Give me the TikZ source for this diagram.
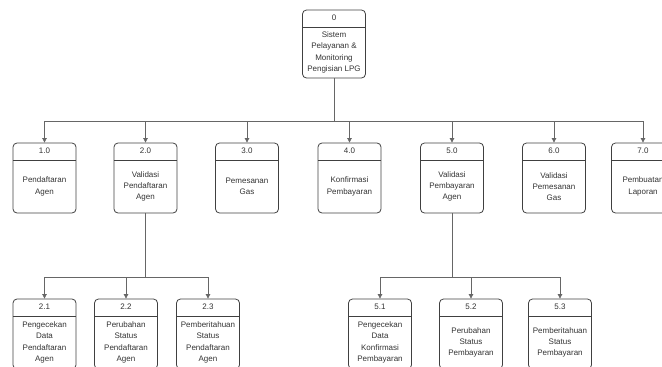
\documentclass[tikz,border=0pt]{standalone}
\usepackage{fontspec}
\setmainfont{Liberation Sans}
\usetikzlibrary{arrows.meta}

\definecolor{boxgray}{HTML}{404040}
\definecolor{linegray}{HTML}{666666}
\definecolor{textgray}{HTML}{333333}

\tikzset{
    proc/.style={draw=boxgray, line width=0.8pt, rounded corners=4pt, minimum width=63pt,
        minimum height=70pt, inner sep=0pt,
        path picture={\draw[boxgray, line width=0.8pt] ([yshift=-17pt]path picture bounding box.north west)
            -- ([yshift=-17pt]path picture bounding box.north east);}},
    num/.style={anchor=center, yshift=-8.5pt, inner sep=0pt, text=textgray},
    desc/.style={anchor=center, yshift=-8.5pt, inner sep=0pt, align=center, text=textgray},
    flow/.style={draw=linegray, line width=0.7pt, -{Triangle[width=4.5pt,length=4.5pt]}},
    wire/.style={draw=linegray, line width=0.7pt}
}

\begin{document}
\begin{tikzpicture}[x=1pt, y=-1pt, font=\fontsize{8}{11.3}\selectfont]
    \useasboundingbox (0,0) rectangle (662,367);

    % level 0
    \node[proc, minimum height=68pt, label={[num]north:0},
        label={[desc]center:Sistem\\Pelayanan \&\\Monitoring\\Pengisian LPG}] (p0) at (334,44) {};

    % level 1
    \foreach \n/\x/\num/\txt in {p1/44.5/1.0/{Pendaftaran\\Agen},
                                 p2/145.5/2.0/{Validasi\\Pendaftaran\\Agen},
                                 p3/247/3.0/{Pemesanan\\Gas},
                                 p4/349.5/4.0/{Konfirmasi\\Pembayaran},
                                 p5/452/5.0/{Validasi\\Pembayaran\\Agen},
                                 p6/554/6.0/{Validasi\\Pemesanan\\Gas},
                                 p7/643/7.0/{Pembuatan\\Laporan}} {
        \node[proc, label={[num]north:\num}, label={[desc]center:\txt}] (\n) at (\x,178) {};
    }

    % level 2
    \foreach \n/\x/\num/\txt in {p21/44.5/2.1/{Pengecekan\\Data\\Pendaftaran\\Agen},
                                 p22/126/2.2/{Perubahan\\Status\\Pendaftaran\\Agen},
                                 p23/208/2.3/{Pemberitahuan\\Status\\Pendaftaran\\Agen},
                                 p51/380/5.1/{Pengecekan\\Data\\Konfirmasi\\Pembayaran},
                                 p52/471/5.2/{Perubahan\\Status\\Pembayaran},
                                 p53/560/5.3/{Pemberitahuan\\Status\\Pembayaran}} {
        \node[proc, label={[num]north:\num}, label={[desc]center:\txt}] (\n) at (\x,334) {};
    }

    % connectors
    \coordinate (bus0) at (334,121);
    \coordinate (bus2) at (145.5,277);
    \coordinate (bus5) at (452,277);

    \draw[wire] (p0.south) -- (bus0);
    \foreach \n in {p1,p2,p3,p4,p5,p6,p7}
        \draw[flow] (bus0) -| (\n.north);

    \draw[wire] (p2.south) -- (bus2);
    \foreach \n in {p21,p22,p23}
        \draw[flow] (bus2) -| (\n.north);

    \draw[wire] (p5.south) -- (bus5);
    \foreach \n in {p51,p52,p53}
        \draw[flow] (bus5) -| (\n.north);
\end{tikzpicture}
\end{document}
